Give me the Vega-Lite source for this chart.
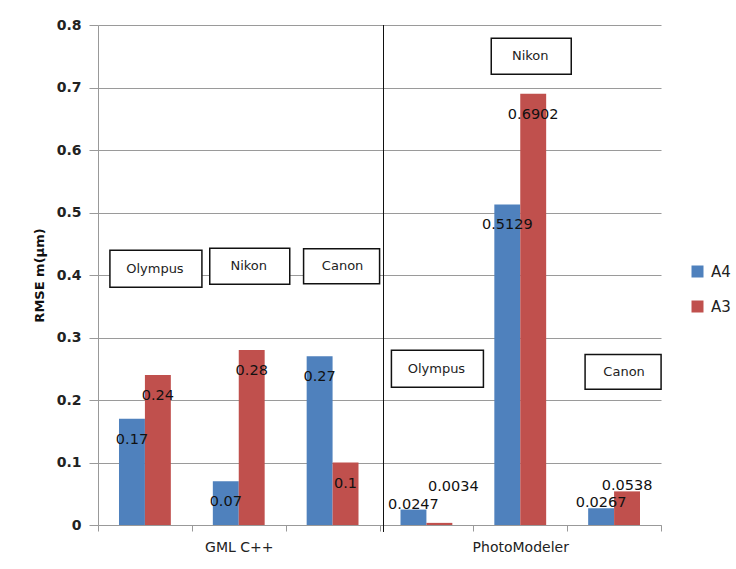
{
  "$schema": "https://vega.github.io/schema/vega-lite/v6.json",
  "autosize": "none",
  "width": 563,
  "height": 500,
  "padding": {"left": 98, "top": 25, "right": 75, "bottom": 44},
  "background": "white",
  "config": {
    "font": "DejaVu Sans",
    "view": {"stroke": null},
    "axis": {"labelFont": "DejaVu Sans", "titleFont": "DejaVu Sans"}
  },
  "datasets": {
    "bars": [
      {"slot": "GML C++ / Olympus", "series": "A4", "value": 0.17},
      {"slot": "GML C++ / Olympus", "series": "A3", "value": 0.24},
      {"slot": "GML C++ / Nikon", "series": "A4", "value": 0.07},
      {"slot": "GML C++ / Nikon", "series": "A3", "value": 0.28},
      {"slot": "GML C++ / Canon", "series": "A4", "value": 0.27},
      {"slot": "GML C++ / Canon", "series": "A3", "value": 0.1},
      {"slot": "PhotoModeler / Olympus", "series": "A4", "value": 0.0247},
      {"slot": "PhotoModeler / Olympus", "series": "A3", "value": 0.0034},
      {"slot": "PhotoModeler / Nikon", "series": "A4", "value": 0.5129},
      {"slot": "PhotoModeler / Nikon", "series": "A3", "value": 0.6902},
      {"slot": "PhotoModeler / Canon", "series": "A4", "value": 0.0267},
      {"slot": "PhotoModeler / Canon", "series": "A3", "value": 0.0538}
    ],
    "boxes": [
      {"slot": "GML C++ / Olympus", "label": "Olympus", "y": 0.41},
      {"slot": "GML C++ / Nikon", "label": "Nikon", "y": 0.414},
      {"slot": "GML C++ / Canon", "label": "Canon", "y": 0.414},
      {"slot": "PhotoModeler / Olympus", "label": "Olympus", "y": 0.25},
      {"slot": "PhotoModeler / Nikon", "label": "Nikon", "y": 0.75},
      {"slot": "PhotoModeler / Canon", "label": "Canon", "y": 0.245}
    ]
  },
  "data": {"name": "bars"},
  "encoding": {
    "x": {
      "field": "slot",
      "type": "nominal",
      "sort": null,
      "scale": {
        "domain": ["GML C++ / Olympus", "GML C++ / Nikon", "GML C++ / Canon", "PhotoModeler / Olympus", "PhotoModeler / Nikon", "PhotoModeler / Canon"],
        "paddingInner": 0,
        "paddingOuter": 0
      },
      "axis": {
        "title": null,
        "tickBand": "extent",
        "ticks": true,
        "tickSize": 6,
        "tickColor": "#999999",
        "domainColor": "#999999",
        "grid": false,
        "labelAngle": 0,
        "labelFontSize": 14,
        "labelColor": "#222222",
        "labelPadding": 9,
        "labelExpr": "datum.value == 'GML C++ / Nikon' ? 'GML C++' : (datum.value == 'PhotoModeler / Nikon' ? 'PhotoModeler' : '')"
      }
    },
    "y": {
      "field": "value",
      "type": "quantitative",
      "scale": {"domain": [0, 0.8], "nice": false},
      "axis": {
        "title": "RMSE m(μm)",
        "titleFontSize": 13,
        "titleFontWeight": "bold",
        "titleColor": "#111111",
        "titlePadding": 10,
        "values": [0, 0.1, 0.2, 0.3, 0.4, 0.5, 0.6, 0.7, 0.8],
        "format": "~g",
        "labelFontSize": 14,
        "labelFontWeight": "bold",
        "labelColor": "#222222",
        "labelPadding": 8,
        "tickSize": 9,
        "tickColor": "#999999",
        "domainColor": "#999999",
        "gridColor": "#9a9a9a",
        "gridWidth": 1.2
      }
    }
  },
  "layer": [
    {
      "mark": {"type": "bar"},
      "encoding": {
        "xOffset": {
          "field": "series",
          "type": "nominal",
          "sort": ["A4", "A3"],
          "scale": {"paddingInner": 0, "paddingOuter": 0.81}
        },
        "color": {
          "field": "series",
          "type": "nominal",
          "scale": {"domain": ["A4", "A3"], "range": ["#4F81BD", "#C0504D"]},
          "legend": {
            "title": null,
            "orient": "none",
            "legendX": 592,
            "legendY": 239,
            "padding": 0,
            "symbolType": "square",
            "symbolSize": 144,
            "symbolStrokeWidth": 0,
            "labelFontSize": 15,
            "labelColor": "#222222",
            "labelOffset": 6,
            "rowPadding": 19
          }
        }
      }
    },
    {
      "transform": [{"filter": "datum.value >= 0.06"}],
      "mark": {"type": "text", "baseline": "middle", "align": "center", "dy": 21, "fontSize": 14.5, "color": "#111111"},
      "encoding": {
        "xOffset": {"field": "series", "type": "nominal", "sort": ["A4", "A3"]},
        "text": {"field": "value", "type": "quantitative", "format": "~g"}
      }
    },
    {
      "transform": [{"filter": "datum.value < 0.06 && datum.value >= 0.01"}],
      "mark": {"type": "text", "baseline": "middle", "align": "center", "dy": -5, "fontSize": 14.5, "color": "#111111"},
      "encoding": {
        "xOffset": {"field": "series", "type": "nominal", "sort": ["A4", "A3"]},
        "text": {"field": "value", "type": "quantitative", "format": "~g"}
      }
    },
    {
      "transform": [{"filter": "datum.value < 0.01"}],
      "mark": {"type": "text", "baseline": "middle", "align": "center", "dy": -36, "dx": 14, "fontSize": 14.5, "color": "#111111"},
      "encoding": {
        "xOffset": {"field": "series", "type": "nominal", "sort": ["A4", "A3"]},
        "text": {"field": "value", "type": "quantitative", "format": "~g"}
      }
    },
    {
      "mark": {"type": "rule", "color": "#111111", "strokeWidth": 1, "xOffset": 4},
      "encoding": {
        "x": {"datum": "PhotoModeler / Olympus", "bandPosition": 0},
        "y": {"datum": 0.8},
        "y2": {"datum": -0.01}
      }
    },
    {
      "data": {"name": "boxes"},
      "transform": [{"filter": "datum.label == 'Olympus'"}],
      "mark": {
        "type": "point",
        "shape": "M-1,-0.4L1,-0.4L1,0.4L-1,0.4Z",
        "size": 8464,
        "filled": true,
        "fill": "white",
        "fillOpacity": 1,
        "opacity": 1,
        "stroke": "#111111",
        "strokeWidth": 1.5,
        "xOffset": 11
      },
      "encoding": {
        "y": {"field": "y", "type": "quantitative"}
      }
    },
    {
      "data": {"name": "boxes"},
      "transform": [{"filter": "datum.label == 'Nikon'"}],
      "mark": {
        "type": "point",
        "shape": "M-1,-0.45L1,-0.45L1,0.45L-1,0.45Z",
        "size": 6400,
        "filled": true,
        "fill": "white",
        "fillOpacity": 1,
        "opacity": 1,
        "stroke": "#111111",
        "strokeWidth": 1.5,
        "xOffset": 11
      },
      "encoding": {
        "y": {"field": "y", "type": "quantitative"}
      }
    },
    {
      "data": {"name": "boxes"},
      "transform": [{"filter": "datum.label == 'Canon'"}],
      "mark": {
        "type": "point",
        "shape": "M-1,-0.4605L1,-0.4605L1,0.4605L-1,0.4605Z",
        "size": 5776,
        "filled": true,
        "fill": "white",
        "fillOpacity": 1,
        "opacity": 1,
        "stroke": "#111111",
        "strokeWidth": 1.5,
        "xOffset": 9
      },
      "encoding": {
        "y": {"field": "y", "type": "quantitative"}
      }
    },
    {
      "data": {"name": "boxes"},
      "mark": {"type": "text", "baseline": "middle", "align": "center", "dx": 10, "fontSize": 13, "color": "#222222"},
      "encoding": {
        "y": {"field": "y", "type": "quantitative"},
        "text": {"field": "label"}
      }
    }
  ]
}
